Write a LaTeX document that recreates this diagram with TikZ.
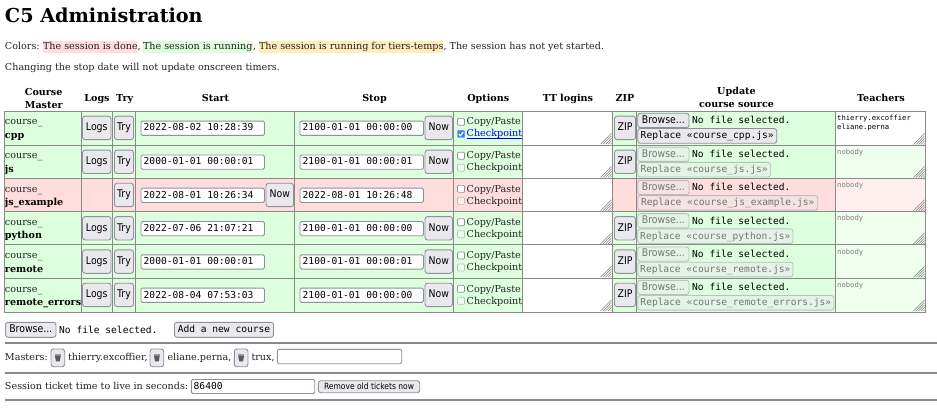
\documentclass[tikz,border=0pt]{standalone}
\usepackage{fontspec}
\setmainfont{DejaVu Serif}
\setsansfont{DejaVu Sans}
\setmonofont{DejaVu Sans Mono}
\newfontfamily\btnfam[FakeStretch=0.88]{DejaVu Sans}
\usetikzlibrary{calc}
\definecolor{cdone}{HTML}{FFDDDD}
\definecolor{crun}{HTML}{DDFFDD}
\definecolor{ctt}{HTML}{FFEEBB}
\definecolor{cgrid}{HTML}{8A8A8A}
\definecolor{cbtn}{HTML}{E9E9ED}
\definecolor{cedge}{HTML}{8F8F9D}
\definecolor{cink}{HTML}{222222}
\definecolor{clink}{HTML}{0000EE}
\definecolor{ccheck}{HTML}{3B82F6}
\newcommand{\fbody}{\fontsize{9.6}{12}\selectfont}
\newcommand{\fmono}{\ttfamily\fontsize{9.6}{12}\selectfont}
\newcommand{\fbtn}{\btnfam\fontsize{10.6}{12}\selectfont}
\tikzset{
  txt/.style={anchor=base west,inner sep=0pt,outer sep=0pt,font=\fbody,text=cink},
  head/.style={anchor=base,inner sep=0pt,font=\fbody\bfseries,text=black},
  monotxt/.style={anchor=base west,inner sep=0pt,font=\fmono,text=black},
  btnbox/.style={draw=cedge,fill=cbtn,line width=.9pt,rounded corners=2.6pt,inner sep=0pt,outer sep=0pt,text=black,text height=.74em,text depth=.16em},
  off/.style={opacity=.5,text opacity=.5},
  inbox/.style={draw=cedge,fill=white,line width=.9pt,rounded corners=1.5pt,inner sep=0pt,outer sep=0pt},
  chk/.style={draw=cedge,fill=white,line width=.7pt,rounded corners=1pt},
  rule/.style={draw=cgrid,line width=2pt},
  grid/.style={draw=cgrid,line width=1pt},
  grip/.style={draw=gray,line width=.5pt},
}
% name, x1,y1,x2,y2, extra style, text
\newcommand{\bx}[7]{\node[#6,minimum width={((#4)-(#2))*1pt},minimum height={((#5)-(#3))*1pt}] (#1) at ({((#2)+(#4))/2},{((#3)+(#5))/2}) {#7};}
% bottom-right grip of a text area
\newcommand{\grips}[2]{\foreach \d in {1.5,4,6.5,9,11.5}{\draw[grip] ({(#1)-\d},{(#2)-.5}) -- ({(#1)-.5},{(#2)-\d});}}
% id, top, bottom, fill, name, start, stop, replace right, has logs/zip (1/0)
\newcommand{\crow}[9]{%
  \def\id{#1}\def\T{#2}\def\B{#3}\def\cfill{#4}%
  \fill[\cfill] (4.5,\T) rectangle (925.5,\B);
  \fill[white] (522.5,\T) rectangle (612.5,\B);
  \node[txt] (\id-a) at (5,{\T+13.7}) {course\_};
  \node[txt,font=\fbody\bfseries,text=black] (\id-b) at (5,{\T+27.2}) {#5};
  \ifnum#9=1
    \bx{\id-logs}{82.5}{\T+4.9}{111}{\T+28.3}{btnbox,font=\fbtn}{Logs}
  \fi
  \bx{\id-try}{114.5}{\T+4.9}{133.5}{\T+28.3}{btnbox,font=\fbtn}{Try}
  \bx{\id-start}{141}{\T+9.8}{264.5}{\T+24.1}{inbox}{}
  \node[monotxt] (\id-startv) at (143.5,{\T+19.7}) {#6};
  \bx{\id-stop}{300}{\T+9.8}{423.5}{\T+24.1}{inbox}{}
  \node[monotxt] (\id-stopv) at (302.5,{\T+19.7}) {#7};
  \ifnum#9=1
    \bx{\id-now}{425}{\T+4.9}{452.5}{\T+28.3}{btnbox,font=\fbtn}{Now}
    \bx{\id-zip}{614.5}{\T+4.9}{635.5}{\T+28.3}{btnbox,font=\fbtn}{ZIP}
  \else
    \bx{\id-now}{266}{\T+4.9}{293.5}{\T+28.3}{btnbox,font=\fbtn}{Now}
  \fi
  \draw[chk] (457.5,{\T+7}) rectangle (464.5,{\T+14});
  \node[txt] (\id-copy) at (466.7,{\T+13.7}) {Copy/Paste};
  \grips{612}{\B-.5}
}
\begin{document}
\begin{tikzpicture}[x=1pt,y=-1pt]
\useasboundingbox (0,0) rectangle (937,414);
\fill[white] (0,0) rectangle (937,414);
\node[txt,font=\fontsize{19.2}{22}\selectfont\bfseries,text=black] (title) at (5,23) {C5 Administration};
% legend
\fill[cdone] (43,41) rectangle (137.3,53);
\fill[crun] (143,41) rectangle (253,53);
\fill[ctt] (259,41) rectangle (443.3,53);
\node[txt] (l0) at (5,50) {Colors:};
\node[txt] (l1) at (43,50) {The session is done};
\node[txt] (l2) at (137.5,50) {,};
\node[txt] (l3) at (143,50) {The session is running};
\node[txt] (l4) at (253.2,50) {,};
\node[txt] (l5) at (259,50) {The session is running for tiers-temps};
\node[txt] (l6) at (443.5,50) {, The session has not yet started.};
\node[txt] (l7) at (5,71) {Changing the stop date will not update onscreen timers.};
% header
\node[head,anchor=base west] (h1) at (24.7,95.5) {Course};
\node[head,anchor=base west] (h1b) at (24.7,108.5) {Master};
\node[head] (h2) at (97,101.5) {Logs};
\node[head] (h3) at (124.7,101.5) {Try};
\node[head] (h4) at (215.5,101.5) {Start};
\node[head] (h5) at (374.5,101.5) {Stop};
\node[head] (h6) at (488.3,101.5) {Options};
\node[head] (h7) at (568,101.5) {TT logins};
\node[head] (h8) at (625,101.5) {ZIP};
\node[head] (h9) at (736.5,95) {Update};
\node[head] (h9b) at (736.5,108) {course source};
\node[head] (h10) at (881,101.5) {Teachers};
% rows
\crow{r1}{111.3}{145.2}{crun}{cpp}{2022-08-02 10:28:39}{2100-01-01 00:00:00}{776.7}{1}
\crow{r2}{145.2}{178.4}{crun}{js}{2000-01-01 00:00:01}{2100-01-01 00:00:01}{770.7}{1}
\crow{r3}{178.4}{211.7}{cdone}{js\_example}{2022-08-01 10:26:34}{2022-08-01 10:26:48}{817.7}{0}
\crow{r4}{211.7}{245}{crun}{python}{2022-07-06 21:07:21}{2100-01-01 00:00:00}{793}{1}
\crow{r5}{245}{278.3}{crun}{remote}{2000-01-01 00:00:01}{2100-01-01 00:00:01}{793}{1}
\crow{r6}{278.3}{312}{crun}{remote\_errors}{2022-08-04 07:53:03}{2100-01-01 00:00:00}{834}{1}
% row 1 specifics
\fill[white] (835.5,111.5) rectangle (925.5,145.2);
\node[monotxt,font=\ttfamily\fontsize{7.2}{9}\selectfont] (t1a) at (837,121) {thierry.excoffier};
\node[monotxt,font=\ttfamily\fontsize{7.2}{9}\selectfont] (t1b) at (837,130) {eliane.perna};
\grips{925}{145}
\draw[fill=ccheck,draw=ccheck,rounded corners=1pt] (457.5,130.5) rectangle (464.5,137.5);
\draw[white,line width=1.1pt] (458.9,134) -- (460.4,135.8) -- (463.2,132);
\node[txt,text=clink] (r1-ck) at (466.7,137) {\underbar{Checkpoint}};
\bx{r1-br}{637.7}{113.3}{689}{127.7}{btnbox,font=\fbtn}{Browse...}
\node[monotxt] (r1-nf) at (692,123.8) {No file selected.};
\bx{r1-rp}{637.7}{128.5}{776.7}{143.3}{btnbox,font=\fmono}{Replace «course\_cpp.js»}
% other rows
\foreach \id/\T/\B/\R/\cname in {
  r2/145.2/178.4/770.7/course\_js.js,
  r3/178.4/211.7/817.7/course\_js\_example.js,
  r4/211.7/245/793/course\_python.js,
  r5/245/278.3/793/course\_remote.js,
  r6/278.3/312/834/course\_remote\_errors.js}{
  \fill[white,opacity=.5] (835.5,\T) rectangle (925.5,\B);
  \node[monotxt,font=\ttfamily\fontsize{7.2}{9}\selectfont,text=gray] (\id-nb) at (837,{\T+9.3}) {nobody};
  \grips{925}{\B-.5}
  \draw[chk,opacity=.5] (457.5,{\T+19}) rectangle (464.5,{\T+26});
  \node[txt] (\id-ck) at (466.7,{\T+25.7}) {Checkpoint};
  \bx{\id-br}{637.7}{\T+2}{689}{\T+16.2}{btnbox,off,font=\fbtn}{Browse...}
  \node[monotxt] (\id-nf) at (692,{\T+12.4}) {No file selected.};
  \bx{\id-rp}{637.7}{\T+17.2}{\R}{\T+31.8}{btnbox,off,font=\fmono}{Replace «\cname»}
}
% grid
\draw[grid] (4.5,111.3) rectangle (925.5,312);
\foreach \yy in {145.2,178.4,211.7,245,278.3}{\draw[grid] (4.5,\yy) -- (925.5,\yy);}
\foreach \xx in {81.5,112.5,135.5,294.5,453.5,522.5,612.5,636.5,835.5}{\draw[grid] (\xx,111.3) -- (\xx,312);}
% bottom form
\bx{b-br}{5.5}{322.3}{56}{337.3}{btnbox,font=\fbtn}{Browse...}
\node[monotxt] (b-nf) at (59,333) {No file selected.};
\bx{b-add}{174.5}{322.3}{273.5}{337.3}{btnbox,font=\fmono}{Add a new course}
\draw[rule] (5,342.7) -- (937,342.7);
\node[txt] (m0) at (5,360) {Masters:};
\bx{m1}{51}{349}{64.7}{366.7}{btnbox}{}
\node[txt] (m1t) at (68,360) {thierry.excoffier,};
\bx{m2}{150}{349}{163.7}{366.7}{btnbox}{}
\node[txt] (m2t) at (167.5,360) {eliane.perna,};
\bx{m3}{234.3}{349}{248}{366.7}{btnbox}{}
\node[txt] (m3t) at (251.5,360) {trux,};
\foreach \c in {m1,m2,m3}{
  \fill[cink!75] ($(\c)+(-3,-2.6)$) -- ($(\c)+(3,-2.6)$) -- ($(\c)+(1.9,3.4)$) -- ($(\c)+(-1.9,3.4)$) -- cycle;
  \draw[cink!45,line width=.6pt] ($(\c)+(-3,-3.4)$) -- ($(\c)+(3,-3.4)$);
}
\bx{m-in}{277.3}{349.3}{401.7}{363.7}{inbox}{}
\draw[rule] (5,372.5) -- (937,372.5);
\node[txt] (s0) at (5,389) {Session ticket time to live in seconds:};
\bx{s-in}{191.3}{379.5}{314.7}{393.5}{inbox}{}
\node[monotxt] (s-v) at (193.5,389) {86400};
\bx{s-b}{318.3}{380.7}{419.7}{392.7}{btnbox,font=\btnfam\fontsize{8.6}{9}\selectfont}{Remove old tickets now}
\draw[rule] (5,399.7) -- (937,399.7);
\end{tikzpicture}
\end{document}
